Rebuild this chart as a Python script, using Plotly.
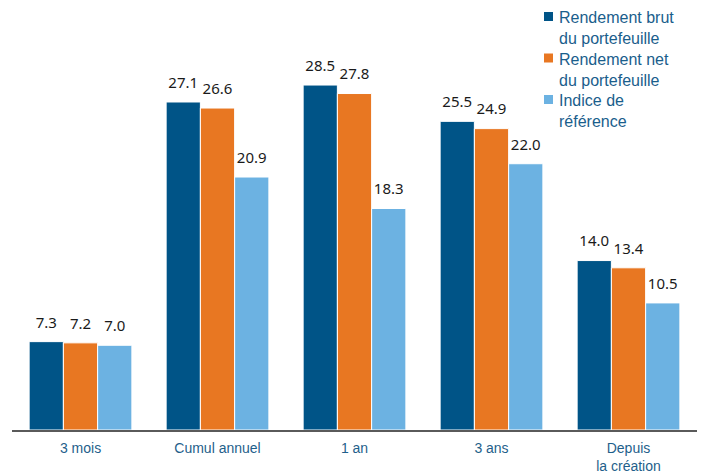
import plotly.graph_objects as go

categories = ["3 mois", "Cumul annuel", "1 an", "3 ans", "Depuis<br>la création"]
brut = [7.3, 27.1, 28.5, 25.5, 14.0]
net = [7.2, 26.6, 27.8, 24.9, 13.4]
indice = [7.0, 20.9, 18.3, 22.0, 10.5]
names = ["Rendement brut<br>du portefeuille", "Rendement net<br>du portefeuille", "Indice de<br>référence"]
colors = ["#005487", "#E87722", "#6CB2E2"]

fig = go.Figure()
for vals, name, col in zip([brut, net, indice], names, colors):
    fig.add_trace(go.Bar(
        x=categories, y=vals, name=name,
        marker=dict(color=col, line=dict(color="white", width=1)),
        showlegend=False,
    ))
for vals in [brut, net, indice]:
    fig.add_trace(go.Scatter(
        x=categories, y=vals, mode="markers+text",
        marker=dict(size=15, opacity=0),
        text=[f"{v:.1f}" for v in vals], textposition="top center",
        textfont=dict(size=15, color="#1a1a1a", family="Noto Sans, Open Sans, sans-serif"),
        cliponaxis=False, showlegend=False, hoverinfo="skip",
    ))

# legend built as annotations (top-right); paper coords relative to plot area
PW, PH = 685.0, 420.0
for i, (name, col) in enumerate(zip(names, colors)):
    top_px = 7 + i * 41.5
    fig.add_annotation(xref="paper", yref="paper", x=(557 - 12) / PW,
                       y=(430 - top_px) / PH,
                       xanchor="left", yanchor="top", align="left",
                       text=name, showarrow=False,
                       font=dict(size=16, color="#1a5e8c"))
    fig.add_shape(type="rect", xref="paper", yref="paper",
                  x0=(544 - 12) / PW, x1=(553 - 12) / PW,
                  y0=(430 - 21 - i * 41.5) / PH, y1=(430 - 12 - i * 41.5) / PH,
                  fillcolor=col, line=dict(width=0))

fig.update_layout(
    width=701, height=466,
    margin=dict(l=4, r=12, t=2, b=44, autoexpand=False),
    plot_bgcolor="white", paper_bgcolor="white",
    font=dict(family="Liberation Sans, Arial, sans-serif"),
    barmode="group", bargap=0.25, bargroupgap=0,
    scattermode="group", scattergap=0.25,
    showlegend=False,
    xaxis=dict(showline=True, linecolor="#5a5a5a", linewidth=2, ticks="",
               tickfont=dict(size=14, color="#1f5f8b"), showgrid=False,
               automargin=False, ticklabelstandoff=4),
    yaxis=dict(visible=False, range=[0, 34.7], showgrid=False, zeroline=False,
               automargin=False),
)
fig.write_html("out.html")
